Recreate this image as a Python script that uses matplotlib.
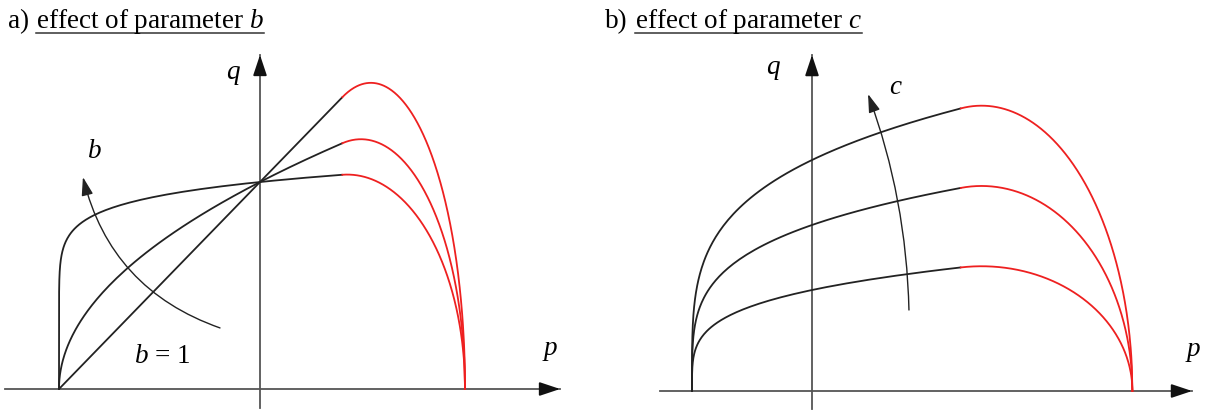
import numpy as np
import matplotlib
matplotlib.use("Agg")
import matplotlib.pyplot as plt

plt.rcParams['font.family'] = ['Liberation Serif', 'DejaVu Serif']
plt.rcParams['mathtext.fontset'] = 'custom'
plt.rcParams['mathtext.rm'] = 'Liberation Serif'
plt.rcParams['mathtext.it'] = 'Liberation Serif:italic'

# --- values ---
# panel a: q = (p + 1)^(1/b), all curves through (0, 1)
b_values = [1, 2, 10]
p_start_a = -1.0
p_junction_a = 0.41     # black -> red
p_end_a = 1.02          # cap hits q = 0

# panel b: q = c * (p + 1)^(1/b) with b fixed
b_fixed = 4
c_values = [1.01, 1.66, 2.31]
p_start_b = -1.0
p_junction_b = 1.24
p_end_b = 2.67

BLACK = '#222222'
RED = '#ee2020'
AXIS = '#555555'
LW = 1.3
FS = 19.5


def cap(pj, qj, slope, pe, n=300):
    # elliptical cap centred on q = 0, tangent to the lower curve at pj,
    # vertical where it meets q = 0 at pe
    d = pe - pj
    u = -slope * d / (slope * d + qj)
    a = d / (1 - u)
    p0 = pe - a
    A = qj / np.sqrt(1 - u ** 2)
    p = np.linspace(pj, pe, n)
    q = A * np.sqrt(np.clip(1 - ((p - p0) / a) ** 2, 0, None))
    return p, q


def lower(c, b, p_start, pj):
    t = np.concatenate([[0.0], np.geomspace(1e-12, 1.0, 400)])
    p = p_start + (pj - p_start) * t
    q = c * (p - p_start) ** (1.0 / b)
    return p, q


def axis_arrow(ax, x0, y0, x1, y1):
    ax.plot([x0, x1], [y0, y1], color=AXIS, lw=LW)
    # short black segment just for the head
    fx, fy = x0 + 0.97 * (x1 - x0), y0 + 0.97 * (y1 - y0)
    ax.annotate('', xy=(x1, y1), xytext=(fx, fy),
                arrowprops=dict(arrowstyle='-|>,head_length=0.9,head_width=0.3',
                                color='#111111', lw=LW, shrinkA=0, shrinkB=0,
                                mutation_scale=14))


fig = plt.figure(figsize=(12.1, 4.17), dpi=100)
W, H = 1210, 417

# panel a axes: p = 0 at x=260 px, 201 px per unit; q = 0 at y=389 px, 207 px per unit
axa = fig.add_axes([0, 0, 605 / W, 1])
axa.set_xlim((0 - 260) / 201, (605 - 260) / 201)
axa.set_ylim((389 - 417) / 207, 389 / 207)
# panel b axes: p = 0 at x=812 px, 120 px per unit; q = 0 at y=391 px, 100 px per unit
axb = fig.add_axes([605 / W, 0, 605 / W, 1])
axb.set_xlim((605 - 812) / 120, (1210 - 812) / 120)
axb.set_ylim((391 - 417) / 100, 391 / 100)
for ax in (axa, axb):
    ax.axis('off')

# ---- panel a ----
axis_arrow(axa, -1.269, 0, 1.493, 0)
axis_arrow(axa, 0, -0.092, 0, 1.614)
for b in b_values:
    p, q = lower(1.0, b, p_start_a, p_junction_a)
    axa.plot(p, q, color=BLACK, lw=LW, solid_capstyle='round')
    qj = q[-1]
    slope = qj / (b * (p_junction_a - p_start_a))
    pc, qc = cap(p_junction_a, qj, slope, p_end_a)
    axa.plot(pc, qc, color=RED, lw=LW)

axa.text(-0.134, 1.527, 'q', fontsize=FS, style='italic', ha='center', va='center')
axa.text(1.443, 0.198, 'p', fontsize=FS, style='italic', ha='center', va='center')
axa.text(-0.821, 1.145, 'b', fontsize=FS, style='italic', ha='center', va='center')
axa.text(-0.488, 0.155, '$b$ = 1', fontsize=FS, ha='center', va='center')
axa.annotate('', xy=(-0.881, 1.024), xytext=(-0.199, 0.295),
             arrowprops=dict(arrowstyle='-|>,head_length=0.8,head_width=0.25',
                             color=BLACK, lw=1.0, shrinkA=0, shrinkB=0,
                             mutation_scale=14, connectionstyle='arc3,rad=-0.27'))

# ---- panel b ----
axis_arrow(axb, -1.267, 0, 3.167, 0)
axis_arrow(axb, 0, -0.18, 0, 3.36)
for c in c_values:
    p, q = lower(c, b_fixed, p_start_b, p_junction_b)
    axb.plot(p, q, color=BLACK, lw=LW, solid_capstyle='round')
    qj = q[-1]
    slope = qj / (b_fixed * (p_junction_b - p_start_b))
    pc, qc = cap(p_junction_b, qj, slope, p_end_b)
    axb.plot(pc, qc, color=RED, lw=LW)

axb.text(-0.325, 3.24, 'q', fontsize=FS, style='italic', ha='center', va='center')
axb.text(3.175, 0.41, 'p', fontsize=FS, style='italic', ha='center', va='center')
axb.text(0.692, 3.04, 'c', fontsize=FS, style='italic', ha='center', va='center')
axb.annotate('', xy=(0.467, 2.97), xytext=(0.808, 0.81),
             arrowprops=dict(arrowstyle='-|>,head_length=0.8,head_width=0.25',
                             color=BLACK, lw=1.0, shrinkA=0, shrinkB=0,
                             mutation_scale=14, connectionstyle='arc3,rad=0.083'))

# ---- titles with underline ----
titles = [(8, 36, 'a)', 'effect of parameter $b$'), (605, 635, 'b)', 'effect of parameter $c$')]
for x0, x1, tag, label in titles:
    fig.text(x0 / W, 1 - 28 / H, tag, fontsize=FS, va='baseline', ha='left')
    t = fig.text(x1 / W, 1 - 28 / H, label, fontsize=FS, va='baseline', ha='left')
    fig.canvas.draw()
    bb = t.get_window_extent()
    fig.add_artist(plt.Line2D([bb.x0 / W, bb.x1 / W], [1 - 33 / H, 1 - 33 / H],
                              color='#333333', lw=1.1))

fig.savefig('out.png', dpi=100)
